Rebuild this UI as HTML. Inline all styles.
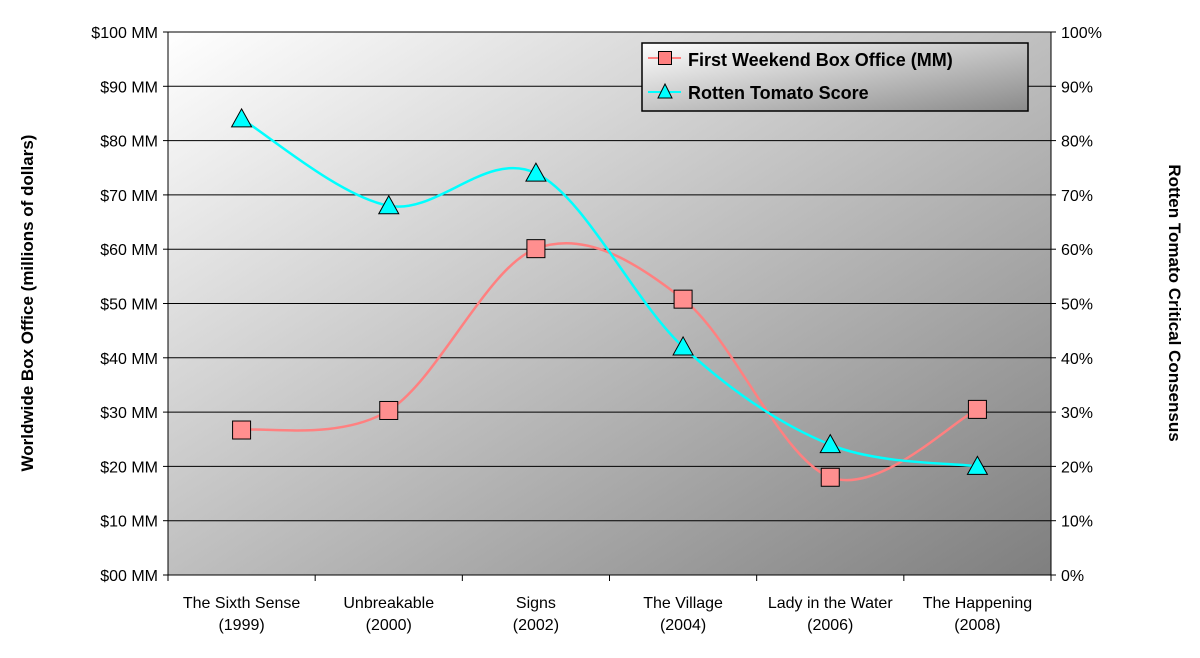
<!DOCTYPE html>
<html><head><meta charset="utf-8"><style>
body{margin:0;background:#fff;font-family:"Liberation Sans",sans-serif;}
svg text{font-family:"Liberation Sans",sans-serif;}
</style></head><body>
<svg id="chart" width="1200" height="653">
<defs>
<linearGradient id="bg" x1="0" y1="0" x2="1" y2="1">
<stop offset="0" stop-color="#ffffff"/><stop offset="1" stop-color="#7f7f7f"/></linearGradient>
<linearGradient id="lg" x1="0" y1="0" x2="1" y2="1">
<stop offset="0" stop-color="#ffffff"/><stop offset="1" stop-color="#8a8a8a"/></linearGradient>
</defs>
<rect x="168" y="32" width="883" height="543" fill="url(#bg)"/>
<g id="grid"></g><g id="axes"></g><g id="series"></g>
<text x="0" y="0" transform="translate(33,303) rotate(-90)" text-anchor="middle" font-size="17" font-weight="bold">Worldwide Box Office (millions of dollars)</text>
<text x="0" y="0" transform="translate(1169,303) rotate(90)" text-anchor="middle" font-size="17" font-weight="bold">Rotten Tomato Critical Consensus</text>
<g>
<rect x="642" y="43" width="386" height="68" fill="url(#lg)" stroke="#000" stroke-width="1.5"/>
<line x1="648" y1="58" x2="681" y2="58" stroke="#ff8080" stroke-width="2"/>
<rect x="658.5" y="51.5" width="13" height="13" fill="#ff8080" stroke="#000" stroke-width="1"/>
<text x="688" y="66" font-size="18" font-weight="bold">First Weekend Box Office (MM)</text>
<line x1="648" y1="92" x2="681" y2="92" stroke="#00ffff" stroke-width="2"/>
<polygon points="665,84 672,98 658,98" fill="#00ffff" stroke="#000" stroke-width="1"/>
<text x="688" y="99" font-size="18" font-weight="bold">Rotten Tomato Score</text>
</g>
</svg>
<script>
const categories=["The Sixth Sense|(1999)","Unbreakable|(2000)","Signs|(2002)","The Village|(2004)","Lady in the Water|(2006)","The Happening|(2008)"];
const boxOffice=[26.7,30.3,60.1,50.8,18.0,30.5];
const tomato=[84,68,74,42,24,20];
const leftTicks=["$00 MM","$10 MM","$20 MM","$30 MM","$40 MM","$50 MM","$60 MM","$70 MM","$80 MM","$90 MM","$100 MM"];
const rightTicks=["0%","10%","20%","30%","40%","50%","60%","70%","80%","90%","100%"];
const NS="http://www.w3.org/2000/svg";
const L=168,R=1051,T=32,B=575;
const bw=(R-L)/categories.length;
const xs=i=>L+bw*(i+0.5);
const yL=v=>B-(v/100)*(B-T);
const yR=v=>B-(v/100)*(B-T);
function mk(tag,attrs,parent){const e=document.createElementNS(NS,tag);for(const k in attrs)e.setAttribute(k,attrs[k]);parent.appendChild(e);return e;}
const grid=document.getElementById('grid'),axes=document.getElementById('axes'),ser=document.getElementById('series');
leftTicks.forEach((t,i)=>{const y=yL(i*10);
 if(i>0){const g=mk('line',{x1:L,x2:R,y1:y,y2:y,stroke:'#000','stroke-width':1},grid);
 
 }
 const tx=mk('text',{x:L-10,y:y+6,'text-anchor':'end','font-size':16},axes);tx.textContent=t;
 
 
 mk('line',{x1:L-5,x2:L,y1:y,y2:y,stroke:'#000'},axes);
});
rightTicks.forEach((t,i)=>{const y=yR(i*10);
 const tx=mk('text',{x:R+10,y:y+6,'text-anchor':'start','font-size':16},axes);tx.textContent=t;
 
 
 mk('line',{x1:R,x2:R+5,y1:y,y2:y,stroke:'#000'},axes);
});
mk('line',{x1:L,x2:L,y1:T,y2:B,stroke:'#000'},axes);
mk('line',{x1:R,x2:R,y1:T,y2:B,stroke:'#000'},axes);
mk('line',{x1:L,x2:R,y1:B,y2:B,stroke:'#000'},axes);
for(let i=0;i<=categories.length;i++){const x=L+bw*i;mk('line',{x1:x,x2:x,y1:B,y2:B+6,stroke:'#000'},axes);}
categories.forEach((c,i)=>{const p=c.split('|');
 [0,1].forEach(j=>{const tx=mk('text',{x:xs(i),y:608+j*22,'text-anchor':'middle','font-size':16},axes);tx.textContent=p[j];
 
 });
});
function smooth(pts){let d=`M${pts[0][0]},${pts[0][1]}`;const t=0.5/3*2;
 for(let i=0;i<pts.length-1;i++){const p0=pts[Math.max(0,i-1)],p1=pts[i],p2=pts[i+1],p3=pts[Math.min(pts.length-1,i+2)];
 const c1=[p1[0]+(p2[0]-p0[0])*t/2,p1[1]+(p2[1]-p0[1])*t/2],c2=[p2[0]-(p3[0]-p1[0])*t/2,p2[1]-(p3[1]-p1[1])*t/2];
 d+=` C${c1[0]},${c1[1]} ${c2[0]},${c2[1]} ${p2[0]},${p2[1]}`;}return d;}
const bp=boxOffice.map((v,i)=>[xs(i),yL(v)]);
const tp=tomato.map((v,i)=>[xs(i),yR(v)]);
const l1=mk('path',{d:smooth(bp),fill:'none',stroke:'#ff8080','stroke-width':2.5},ser);


const l2=mk('path',{d:smooth(tp),fill:'none',stroke:'#00ffff','stroke-width':2.5},ser);


bp.forEach(p=>{const r=mk('rect',{x:p[0]-9,y:p[1]-9,width:18,height:18,fill:'#ff8f8f',stroke:'#000'},ser);
 
 });
tp.forEach(p=>{const g=mk('polygon',{points:`${p[0]},${p[1]-10} ${p[0]+10},${p[1]+8} ${p[0]-10},${p[1]+8}`,fill:'#00ffff',stroke:'#000'},ser);
 
 });
</script>
</body></html>
